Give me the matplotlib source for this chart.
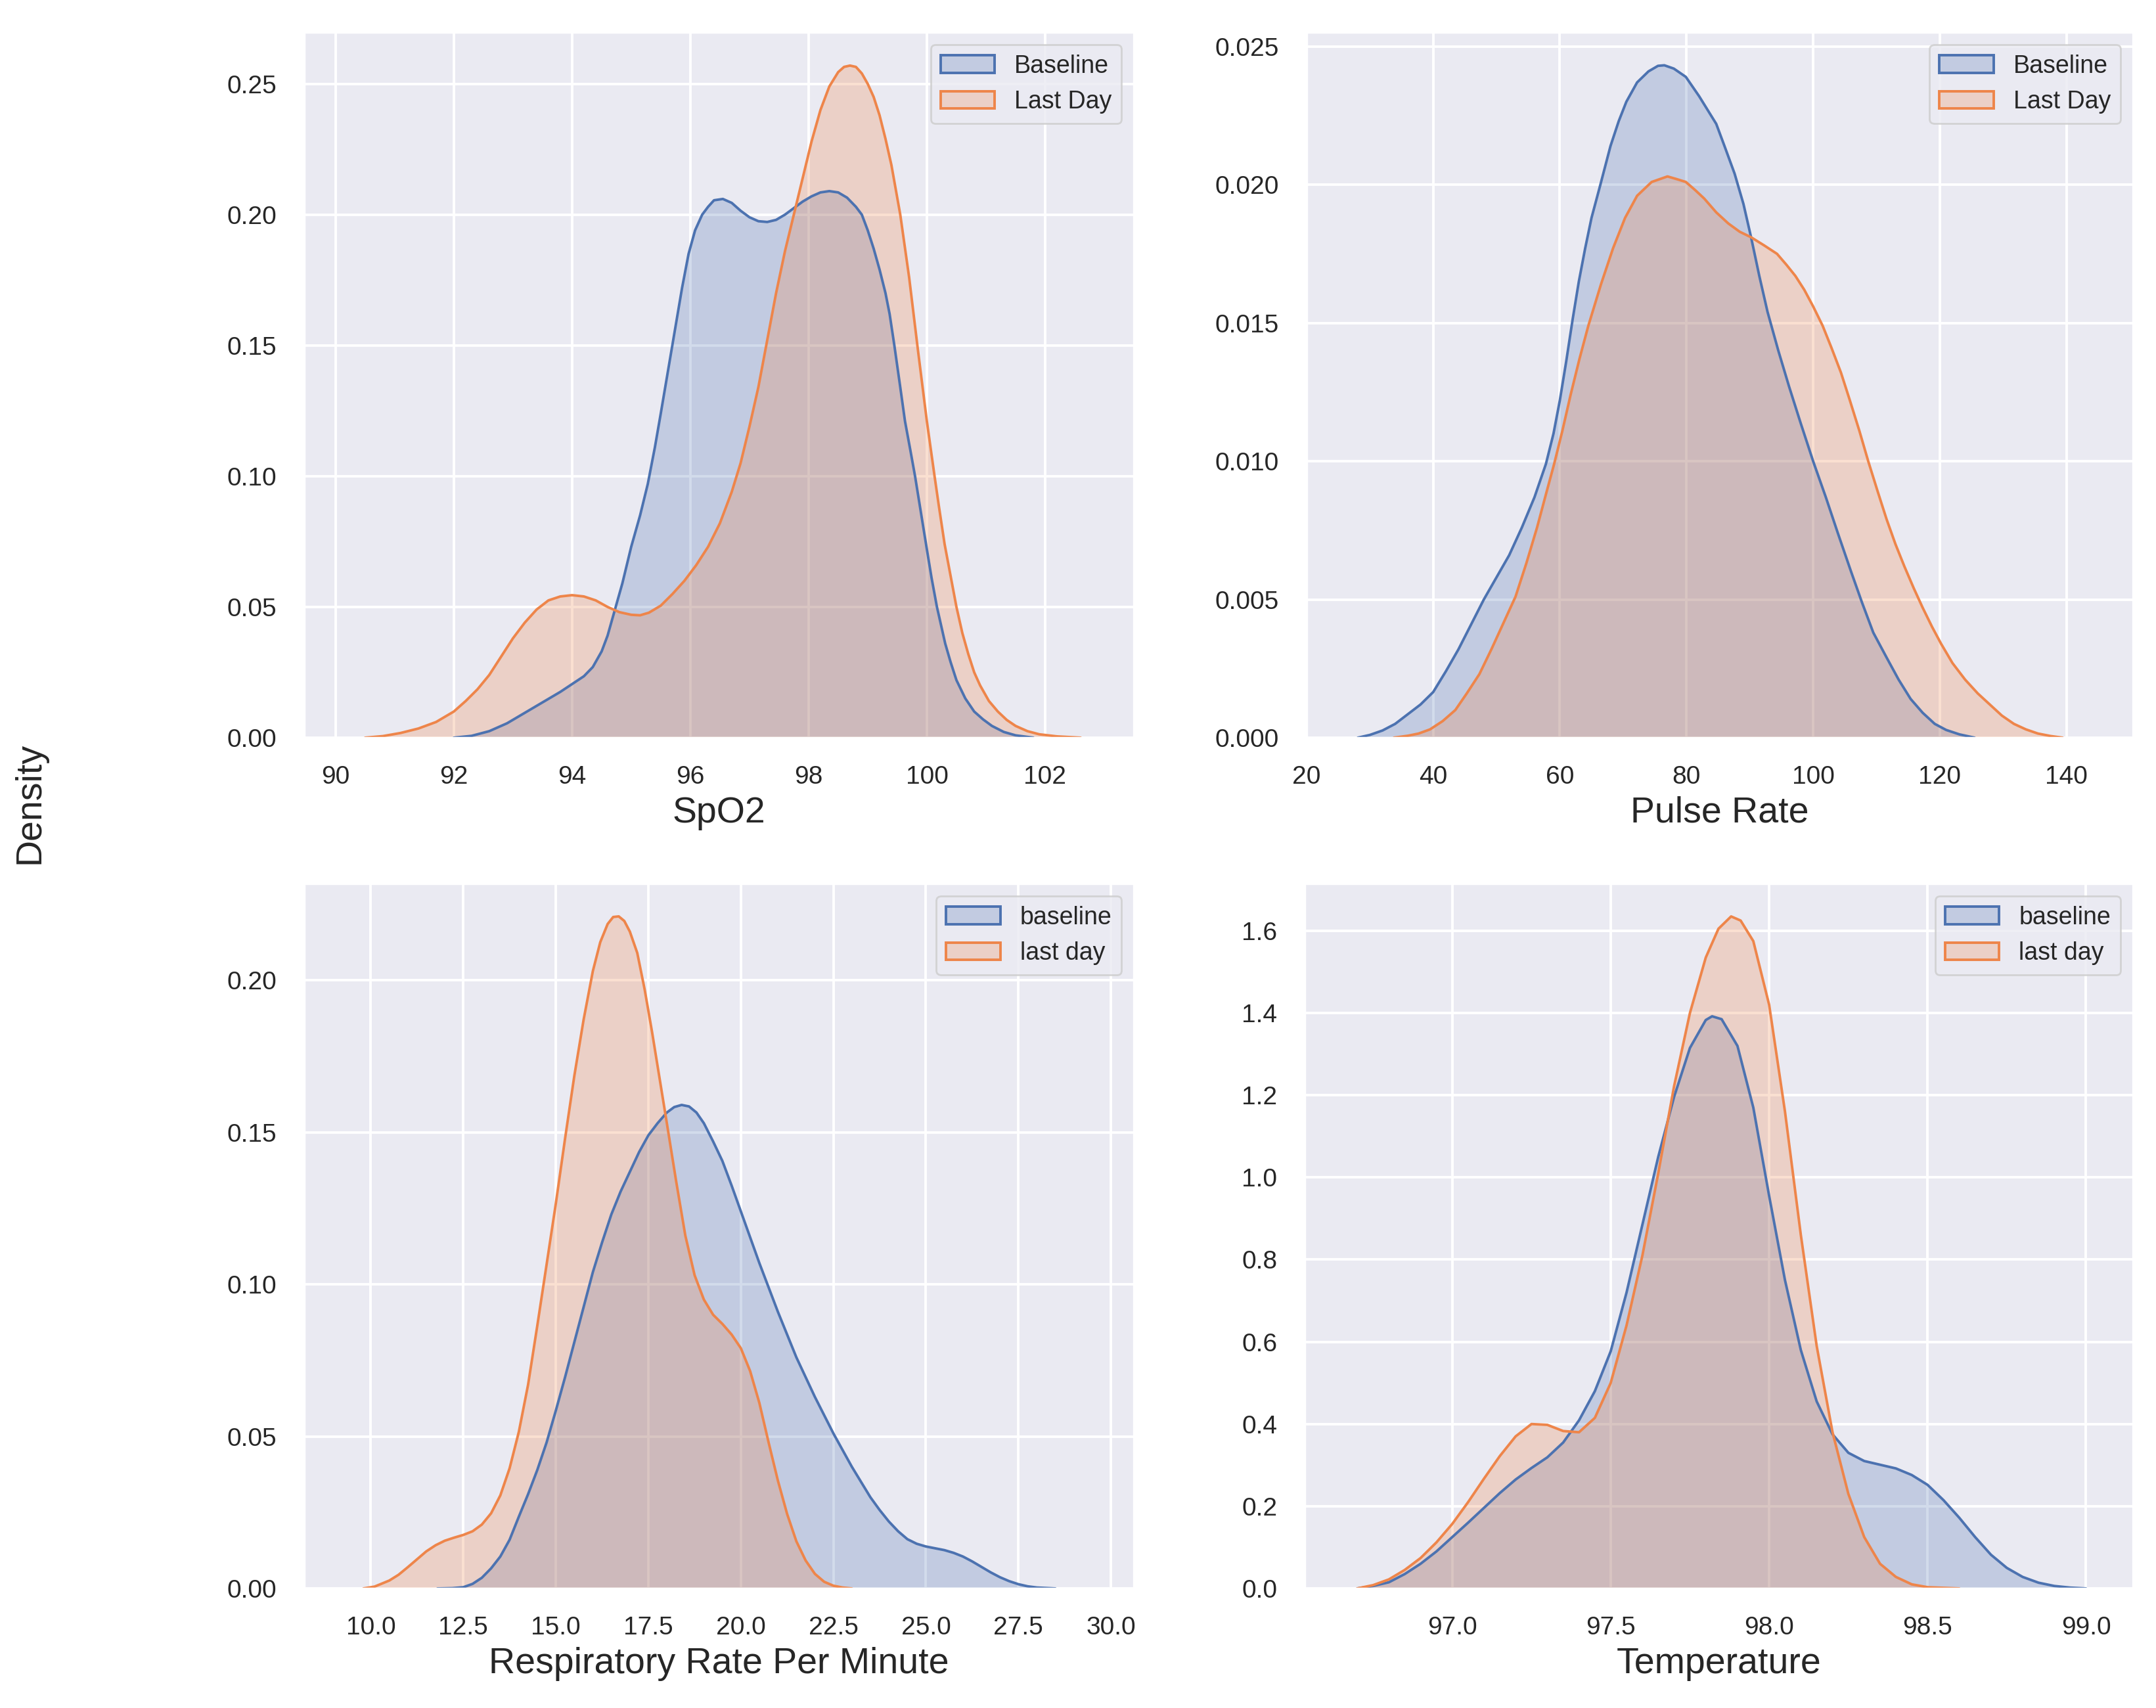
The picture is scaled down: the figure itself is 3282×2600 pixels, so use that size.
import numpy as np
import matplotlib
matplotlib.use("Agg")
import matplotlib.pyplot as plt
import seaborn as sns
from matplotlib.patches import Patch
from matplotlib.ticker import FormatStrFormatter

# ---- values ----
# SpO2
spo2_base_x = [92.0, 92.3, 92.6, 92.9, 93.2, 93.5, 93.8, 94.0, 94.2, 94.35, 94.5, 94.6, 94.7, 94.85, 95.0,
               95.15, 95.28, 95.4, 95.5, 95.62, 95.74, 95.86, 95.97, 96.08, 96.2, 96.3, 96.4, 96.55, 96.7,
               96.85, 97.0, 97.15, 97.3, 97.45, 97.6, 97.75, 97.9, 98.05, 98.2, 98.35, 98.5, 98.65, 98.8,
               98.9, 99.0, 99.1, 99.2, 99.3, 99.37, 99.45, 99.55, 99.63, 99.72, 99.8, 99.9, 100.0, 100.08,
               100.17, 100.25, 100.31, 100.4, 100.5, 100.65, 100.8, 100.95, 101.1, 101.3, 101.5, 101.8]
spo2_base_y = [0.000, 0.0007, 0.0025, 0.0055, 0.0095, 0.0135, 0.0175, 0.0205, 0.0235, 0.027, 0.033, 0.039,
               0.047, 0.059, 0.073, 0.085, 0.097, 0.111, 0.124, 0.140, 0.156, 0.172, 0.185, 0.194, 0.200,
               0.203, 0.2055, 0.206, 0.2045, 0.2015, 0.199, 0.1975, 0.1972, 0.198, 0.200, 0.2025, 0.205,
               0.207, 0.2085, 0.209, 0.2085, 0.2065, 0.203, 0.200, 0.194, 0.187, 0.179, 0.170, 0.162,
               0.150, 0.134, 0.121, 0.110, 0.100, 0.086, 0.072, 0.061, 0.050, 0.042, 0.036, 0.029, 0.022,
               0.015, 0.010, 0.007, 0.0045, 0.0022, 0.0009, 0.000]
spo2_last_x = [90.5, 90.8, 91.1, 91.4, 91.7, 92.0, 92.2, 92.4, 92.6, 92.8, 93.0, 93.2, 93.4, 93.6, 93.8,
               94.0, 94.2, 94.4, 94.6, 94.8, 95.0, 95.15, 95.3, 95.5, 95.7, 95.9, 96.1, 96.3, 96.5, 96.7,
               96.85, 97.0, 97.15, 97.3, 97.45, 97.6, 97.75, 97.9, 98.05, 98.2, 98.35, 98.5, 98.6, 98.7,
               98.8, 98.9, 99.0, 99.1, 99.2, 99.3, 99.4, 99.55, 99.7, 99.85, 100.0, 100.13, 100.2, 100.3,
               100.4, 100.5, 100.6, 100.7, 100.8, 100.9, 101.05, 101.2, 101.35, 101.5, 101.7, 101.9,
               102.2, 102.6]
spo2_last_y = [0.000, 0.0006, 0.0018, 0.0035, 0.006, 0.010, 0.014, 0.0185, 0.024, 0.031, 0.038, 0.044,
               0.049, 0.0525, 0.054, 0.0545, 0.054, 0.0525, 0.050, 0.048, 0.047, 0.0468, 0.0478, 0.0505,
               0.055, 0.060, 0.066, 0.073, 0.082, 0.094, 0.105, 0.119, 0.134, 0.152, 0.170, 0.186, 0.200,
               0.214, 0.228, 0.240, 0.249, 0.2545, 0.2565, 0.257, 0.2565, 0.254, 0.250, 0.245, 0.238,
               0.229, 0.219, 0.200, 0.176, 0.148, 0.121, 0.100, 0.089, 0.074, 0.062, 0.050, 0.040, 0.032,
               0.025, 0.020, 0.014, 0.010, 0.0068, 0.0045, 0.0025, 0.0013, 0.0005, 0.000]

# Pulse rate
pulse_base_x = [28.1, 30, 32, 34, 36, 38, 40, 42, 44, 46, 48, 50, 52, 54, 56, 57.8, 59, 60, 61, 62, 63,
                64, 65, 66.4, 68, 69.3, 70.5, 72.2, 74, 75.5, 76.5, 78, 79.9, 82, 84.7, 86, 87.6, 89,
                90.2, 91.5, 92.8, 94.5, 96.2, 98, 100, 102, 103.9, 106, 107.7, 109.5, 111.6, 113.5,
                115.4, 117.3, 119.2, 121, 123.1, 125.5]
pulse_base_y = [0.0, 0.0001, 0.00026, 0.0005, 0.00085, 0.0012, 0.00165, 0.0024, 0.0032, 0.0041, 0.0050,
                0.0058, 0.0066, 0.0076, 0.0087, 0.0099, 0.0110, 0.0122, 0.0136, 0.0151, 0.0165, 0.0177,
                0.0188, 0.0200, 0.0214, 0.0223, 0.0230, 0.0237, 0.0241, 0.0243, 0.02432, 0.0242, 0.0239,
                0.0232, 0.0222, 0.0214, 0.0204, 0.0193, 0.0181, 0.0167, 0.0154, 0.0140, 0.0127, 0.0114,
                0.0100, 0.0087, 0.0074, 0.0060, 0.0049, 0.0038, 0.0029, 0.0021, 0.0014, 0.0009, 0.0005,
                0.00028, 0.00012, 0.0]
pulse_last_x = [33.8, 36, 37.7, 39.5, 41.5, 43.5, 45.3, 47.3, 49.2, 51, 53.0, 54.7, 56.4, 57.8, 59.1,
                60.4, 61.7, 63.1, 64.5, 66.5, 68.4, 70.3, 72.2, 74.5, 77.0, 78.5, 79.9, 81.4, 82.8, 84.7,
                86.6, 88.4, 90.2, 92.3, 94.3, 95.8, 97.2, 98.6, 100.0, 101.5, 102.9, 104.4, 105.8, 107.3,
                108.7, 110.2, 111.6, 113, 114.4, 115.9, 117.3, 118.8, 120.2, 122, 124.0, 126, 127.9,
                129.8, 131.7, 133.6, 135.5, 137.5, 139.4]
pulse_last_y = [0.0, 0.00007, 0.00015, 0.0003, 0.0006, 0.0010, 0.0016, 0.0023, 0.0032, 0.0041, 0.0051,
                0.0063, 0.0076, 0.0088, 0.0099, 0.0111, 0.0124, 0.0137, 0.0149, 0.0164, 0.0177, 0.0188,
                0.0196, 0.0201, 0.0203, 0.0202, 0.0201, 0.0198, 0.0195, 0.0190, 0.0186, 0.0183, 0.0181,
                0.0178, 0.0175, 0.0171, 0.0167, 0.0162, 0.0156, 0.0149, 0.0141, 0.0132, 0.0122, 0.0111,
                0.0100, 0.0089, 0.0079, 0.0070, 0.0062, 0.0054, 0.0047, 0.0040, 0.0034, 0.0027, 0.0021,
                0.0016, 0.0012, 0.0008, 0.0005, 0.0003, 0.00015, 0.00006, 0.0]

# Respiratory rate
resp_base_x = [11.8, 12.2, 12.5, 12.75, 13.0, 13.25, 13.5, 13.75, 14.0, 14.25, 14.5, 14.75, 15.0, 15.25,
               15.5, 15.75, 16.0, 16.25, 16.5, 16.75, 17.0, 17.25, 17.5, 17.75, 18.0, 18.2, 18.4, 18.6,
               18.8, 19.0, 19.25, 19.5, 19.75, 20.0, 20.25, 20.5, 20.75, 21.0, 21.25, 21.5, 21.75, 22.0,
               22.25, 22.5, 22.75, 23.0, 23.25, 23.5, 23.75, 24.0, 24.25, 24.5, 24.75, 25.0, 25.25, 25.5,
               25.75, 26.0, 26.25, 26.5, 26.75, 27.0, 27.25, 27.5, 27.75, 28.0, 28.5]
resp_base_y = [0.0, 0.0001, 0.0004, 0.0015, 0.0035, 0.0066, 0.0105, 0.016, 0.0236, 0.031, 0.039, 0.048,
               0.0585, 0.0695, 0.081, 0.0925, 0.104, 0.1138, 0.123, 0.1305, 0.137, 0.1435, 0.149, 0.153,
               0.1565, 0.1583, 0.159, 0.1585, 0.1565, 0.153, 0.147, 0.1406, 0.1325, 0.124, 0.1155, 0.107,
               0.099, 0.091, 0.0835, 0.076, 0.0695, 0.063, 0.057, 0.051, 0.0455, 0.040, 0.035, 0.030,
               0.0258, 0.022, 0.0188, 0.0162, 0.0147, 0.0138, 0.0132, 0.0126, 0.0117, 0.0105, 0.0089,
               0.0071, 0.0053, 0.0037, 0.0024, 0.0014, 0.0007, 0.0003, 0.0]
resp_last_x = [9.8, 10.1, 10.5, 10.75, 11.0, 11.25, 11.5, 11.75, 12.0, 12.25, 12.5, 12.75, 13.0, 13.25,
               13.5, 13.75, 14.0, 14.25, 14.5, 14.75, 15.0, 15.25, 15.5, 15.75, 16.0, 16.2, 16.4, 16.55,
               16.7, 16.85, 17.0, 17.2, 17.4, 17.6, 17.8, 18.0, 18.25, 18.5, 18.75, 19.0, 19.25, 19.5,
               19.75, 20.0, 20.25, 20.5, 20.75, 21.0, 21.25, 21.5, 21.75, 22.0, 22.25, 22.5, 22.75, 23.0]
resp_last_y = [0.0, 0.0006, 0.0026, 0.0045, 0.007, 0.0096, 0.0122, 0.0142, 0.0157, 0.0167, 0.0176, 0.0188,
               0.0210, 0.0247, 0.0306, 0.0395, 0.0515, 0.067, 0.0865, 0.1065, 0.1266, 0.148, 0.1686,
               0.187, 0.2030, 0.2125, 0.2185, 0.2208, 0.221, 0.2195, 0.216, 0.209, 0.197, 0.183, 0.168,
               0.153, 0.134, 0.116, 0.103, 0.095, 0.090, 0.087, 0.0835, 0.079, 0.0715, 0.061, 0.048,
               0.0355, 0.0245, 0.0155, 0.0092, 0.0048, 0.0022, 0.0009, 0.0003, 0.0]

# Temperature
temp_base_x = [96.7, 96.75, 96.8, 96.85, 96.9, 96.95, 97.0, 97.05, 97.1, 97.15, 97.2, 97.25, 97.3, 97.35,
               97.4, 97.45, 97.5, 97.55, 97.6, 97.65, 97.7, 97.75, 97.8, 97.82, 97.85, 97.9, 97.95, 98.0,
               98.05, 98.1, 98.15, 98.2, 98.25, 98.3, 98.35, 98.4, 98.45, 98.5, 98.55, 98.6, 98.65,
               98.7, 98.75, 98.8, 98.85, 98.9, 98.95, 99.0]
temp_base_y = [0.0, 0.006, 0.015, 0.035, 0.06, 0.09, 0.125, 0.16, 0.196, 0.232, 0.265, 0.293, 0.319,
               0.355, 0.409, 0.48, 0.577, 0.72, 0.885, 1.05, 1.196, 1.315, 1.383, 1.392, 1.385, 1.32,
               1.17, 0.955, 0.75, 0.58, 0.455, 0.375, 0.330, 0.310, 0.301, 0.292, 0.276, 0.252, 0.215,
               0.172, 0.125, 0.082, 0.05, 0.028, 0.014, 0.006, 0.002, 0.0]
temp_last_x = [96.7, 96.75, 96.8, 96.85, 96.9, 96.95, 97.0, 97.05, 97.1, 97.15, 97.2, 97.25, 97.3, 97.35,
               97.4, 97.45, 97.5, 97.55, 97.6, 97.65, 97.7, 97.75, 97.8, 97.84, 97.88, 97.91, 97.95, 98.0,
               98.05, 98.1, 98.15, 98.2, 98.25, 98.3, 98.35, 98.4, 98.45, 98.5, 98.6]
temp_last_y = [0.0, 0.008, 0.022, 0.045, 0.074, 0.112, 0.157, 0.21, 0.267, 0.322, 0.370, 0.400, 0.398,
               0.383, 0.38, 0.415, 0.50, 0.64, 0.81, 1.01, 1.222, 1.40, 1.535, 1.605, 1.635, 1.625, 1.575,
               1.42, 1.16, 0.86, 0.59, 0.38, 0.23, 0.125, 0.06, 0.028, 0.01, 0.003, 0.0]

panels = [
    dict(bx=spo2_base_x, by=spo2_base_y, lx=spo2_last_x, ly=spo2_last_y, xlabel="SpO2",
         labels=["Baseline", "Last Day"], xlim=(89.47, 103.5), ylim=(0, 0.2698),
         xticks=np.arange(90, 103, 2), yticks=np.arange(0, 0.26, 0.05), xfmt="%d", yfmt="%.2f"),
    dict(bx=pulse_base_x, by=pulse_base_y, lx=pulse_last_x, ly=pulse_last_y, xlabel="Pulse Rate",
         labels=["Baseline", "Last Day"], xlim=(20, 150.5), ylim=(0, 0.02552),
         xticks=np.arange(20, 141, 20), yticks=np.arange(0, 0.0251, 0.005), xfmt="%d", yfmt="%.3f"),
    dict(bx=resp_base_x, by=resp_base_y, lx=resp_last_x, ly=resp_last_y, xlabel="Respiratory Rate Per Minute",
         labels=["baseline", "last day"], xlim=(8.2, 30.62), ylim=(0, 0.2318),
         xticks=np.arange(10, 30.1, 2.5), yticks=np.arange(0, 0.21, 0.05), xfmt="%.1f", yfmt="%.2f"),
    dict(bx=temp_base_x, by=temp_base_y, lx=temp_last_x, ly=temp_last_y, xlabel="Temperature",
         labels=["baseline", "last day"], xlim=(96.534, 99.148), ylim=(0, 1.715),
         xticks=np.arange(97, 99.01, 0.5), yticks=np.arange(0, 1.61, 0.2), xfmt="%.1f", yfmt="%.1f"),
]

sns.set_theme(style="darkgrid")
plt.rcParams['font.family'] = ['Liberation Sans', 'DejaVu Sans']

blue = "#4C72B0"
orange = "#EE854A"

fig = plt.figure(figsize=(16.41, 13.0), dpi=200)
# axes boxes: left, bottom, width, height
boxes = [[0.1411, 0.5681, 0.3848, 0.4131],
         [0.6060, 0.5681, 0.3833, 0.4131],
         [0.1411, 0.0700, 0.3848, 0.4127],
         [0.6051, 0.0700, 0.3842, 0.4127]]

for box, p in zip(boxes, panels):
    ax = fig.add_axes(box)
    ax.fill_between(p["bx"], p["by"], color=blue, alpha=0.25, lw=0)
    ax.plot(p["bx"], p["by"], color=blue, lw=1.4)
    ax.fill_between(p["lx"], p["ly"], color=orange, alpha=0.25, lw=0)
    ax.plot(p["lx"], p["ly"], color=orange, lw=1.4)

    ax.set_xlim(*p["xlim"])
    ax.set_ylim(*p["ylim"])
    ax.set_xticks(p["xticks"])
    ax.set_yticks(p["yticks"])
    ax.xaxis.set_major_formatter(FormatStrFormatter(p["xfmt"]))
    ax.yaxis.set_major_formatter(FormatStrFormatter(p["yfmt"]))
    ax.tick_params(labelsize=14, pad=9, colors=".15")
    ax.grid(True, color="white", lw=1.4)
    ax.set_xlabel(p["xlabel"], fontsize=20, labelpad=4, color=".15")

    handles = [Patch(facecolor=blue, alpha=None, edgecolor=blue, lw=1.4),
               Patch(facecolor=orange, edgecolor=orange, lw=1.4)]
    handles[0].set_facecolor(matplotlib.colors.to_rgba(blue, 0.25))
    handles[1].set_facecolor(matplotlib.colors.to_rgba(orange, 0.25))
    ax.legend(handles, p["labels"], loc="upper right", fontsize=13.5, handlelength=2.2)

fig.text(0.014, 0.53, "Density", rotation=90, fontsize=20, va="center", ha="center", color=".15")

fig.savefig("out.png", dpi=200, facecolor="white")
